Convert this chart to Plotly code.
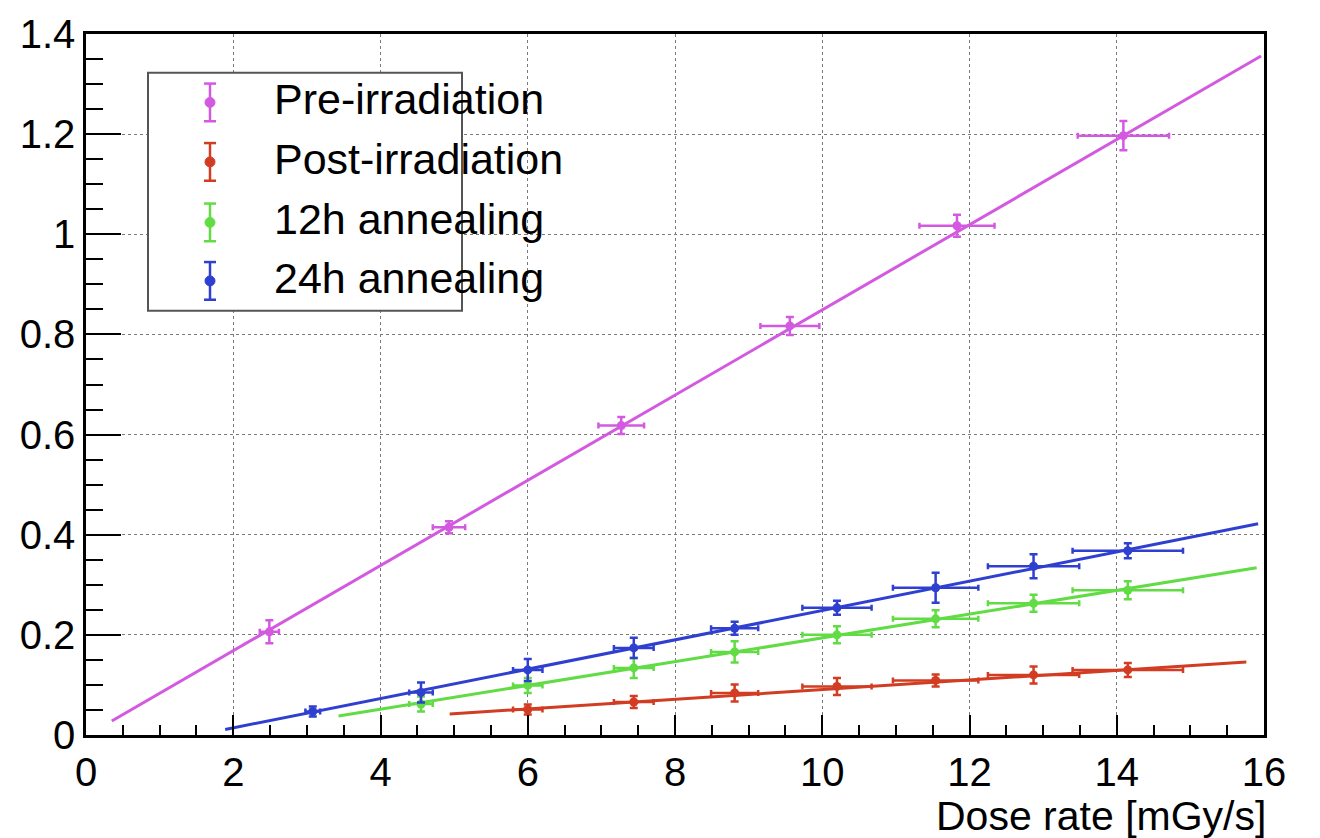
import plotly.graph_objects as go

# ---- measured data -------------------------------------------------------
pre_x = [2.49, 4.93, 7.27, 9.56, 11.83, 14.09]
pre_y = [0.206, 0.415, 0.618, 0.817, 1.017, 1.197]
pre_xerr = [0.13, 0.22, 0.31, 0.40, 0.51, 0.62]
pre_yerr = [0.023, 0.012, 0.017, 0.018, 0.022, 0.029]

post_x = [6.0, 7.44, 8.81, 10.2, 11.54, 12.87, 14.15]
post_y = [0.051, 0.066, 0.084, 0.097, 0.109, 0.120, 0.130]
post_xerr = [0.20, 0.27, 0.32, 0.47, 0.58, 0.62, 0.75]
post_yerr = [0.010, 0.012, 0.017, 0.017, 0.012, 0.017, 0.014]

ann12_x = [4.55, 6.0, 7.44, 8.81, 10.2, 11.54, 12.87, 14.15]
ann12_y = [0.062, 0.099, 0.134, 0.166, 0.200, 0.232, 0.263, 0.289]
ann12_xerr = [0.16, 0.20, 0.27, 0.32, 0.47, 0.58, 0.62, 0.75]
ann12_yerr = [0.015, 0.015, 0.020, 0.021, 0.017, 0.017, 0.017, 0.018]

ann24_x = [3.08, 4.55, 6.0, 7.44, 8.81, 10.2, 11.54, 12.87, 14.15]
ann24_y = [0.047, 0.085, 0.130, 0.174, 0.213, 0.254, 0.294, 0.337, 0.368]
ann24_xerr = [0.10, 0.16, 0.20, 0.27, 0.32, 0.47, 0.58, 0.62, 0.75]
ann24_yerr = [0.010, 0.020, 0.022, 0.020, 0.013, 0.014, 0.030, 0.024, 0.015]

# linear fit lines (end points)
pre_fit_x, pre_fit_y = [0.35, 15.96], [0.028, 1.356]
post_fit_x, post_fit_y = [4.94, 15.76], [0.042, 0.146]
ann12_fit_x, ann12_fit_y = [3.43, 15.90], [0.038, 0.334]
ann24_fit_x, ann24_fit_y = [1.89, 15.92], [0.011, 0.422]

labels = ["Pre-irradiation", "Post-irradiation", "12h annealing", "24h annealing"]
colors = ["#d35ae0", "#d23c22", "#62dc44", "#2f3fd0"]

x_range = [0, 16]
y_range = [0, 1.4]
x_title = "Dose rate [mGy/s]"

# ---- figure --------------------------------------------------------------
W, H = 1320, 838
L, R, T, B = 86, 56, 28, 103
plot_w, plot_h = W - L - R, H - T - B
FONT = "Liberation Sans, Arial, Helvetica, sans-serif"

series = [
    (pre_x, pre_y, pre_xerr, pre_yerr, pre_fit_x, pre_fit_y),
    (post_x, post_y, post_xerr, post_yerr, post_fit_x, post_fit_y),
    (ann12_x, ann12_y, ann12_xerr, ann12_yerr, ann12_fit_x, ann12_fit_y),
    (ann24_x, ann24_y, ann24_xerr, ann24_yerr, ann24_fit_x, ann24_fit_y),
]

fig = go.Figure()
for (xs, ys, xe, ye, fx, fy), name, col in zip(series, labels, colors):
    fig.add_trace(go.Scatter(
        x=fx, y=fy, mode="lines", line=dict(color=col, width=3),
        showlegend=False, hoverinfo="skip"))
    fig.add_trace(go.Scatter(
        x=xs, y=ys, mode="markers", name=name,
        marker=dict(color=col, size=9),
        error_x=dict(type="data", array=xe, color=col, thickness=2.5, width=3),
        error_y=dict(type="data", array=ye, color=col, thickness=2.5, width=4),
        showlegend=False))


def px(xp):
    return (xp - L) / plot_w


def py(yp):
    return (H - B - yp) / plot_h


# hand-built legend box with error-bar style keys
shapes = [dict(type="rect", xref="paper", yref="paper",
               x0=px(148), x1=px(462), y0=py(307), y1=py(67),
               line=dict(color="#555555", width=2), fillcolor="white", layer="above")]
annotations = []
key_x = 210
rows = [97, 157, 218, 277]
for row, name, col in zip(rows, labels, colors):
    shapes.append(dict(type="line", xref="paper", yref="paper",
                       x0=px(key_x), x1=px(key_x), y0=py(row + 19), y1=py(row - 19),
                       line=dict(color=col, width=2.5), layer="above"))
    for cap in (row - 19, row + 19):
        shapes.append(dict(type="line", xref="paper", yref="paper",
                           x0=px(key_x - 6), x1=px(key_x + 6), y0=py(cap), y1=py(cap),
                           line=dict(color=col, width=2.5), layer="above"))
    shapes.append(dict(type="circle", xref="paper", yref="paper",
                       x0=px(key_x - 5), x1=px(key_x + 5),
                       y0=py(row + 5), y1=py(row - 5),
                       line=dict(color=col, width=1), fillcolor=col, layer="above"))
    annotations.append(dict(xref="paper", yref="paper", x=px(272), y=py(row - 3),
                            xanchor="left", yanchor="middle", showarrow=False,
                            text=name, font=dict(family=FONT, size=43, color="black")))

annotations.append(dict(xref="paper", yref="paper", x=px(1268), y=py(817),
                        xanchor="right", yanchor="middle", showarrow=False,
                        text=x_title, font=dict(family=FONT, size=41, color="black")))

axis_common = dict(
    showline=True, linecolor="black", linewidth=2.5, mirror=True,
    ticks="inside", tickcolor="black", tickwidth=2,
    showgrid=True, gridcolor="#7a7a7a", gridwidth=1, griddash="dot",
    zeroline=False, tickfont=dict(family=FONT, size=40, color="black"),
)

fig.update_layout(
    width=W, height=H,
    margin=dict(l=L, r=R, t=T, b=B),
    paper_bgcolor="white", plot_bgcolor="white",
    showlegend=False,
    shapes=shapes, annotations=annotations,
    xaxis=dict(range=x_range, dtick=2, tick0=0, ticklen=20,
               minor=dict(dtick=0.5, ticklen=10, ticks="inside", tickcolor="black",
                          tickwidth=1.5, showgrid=False),
               **axis_common),
    yaxis=dict(range=y_range, dtick=0.2, tick0=0, ticklen=35,
               minor=dict(dtick=0.05, ticklen=17, ticks="inside", tickcolor="black",
                          tickwidth=1.5, showgrid=False),
               **axis_common),
)

fig.write_html("out.html")
